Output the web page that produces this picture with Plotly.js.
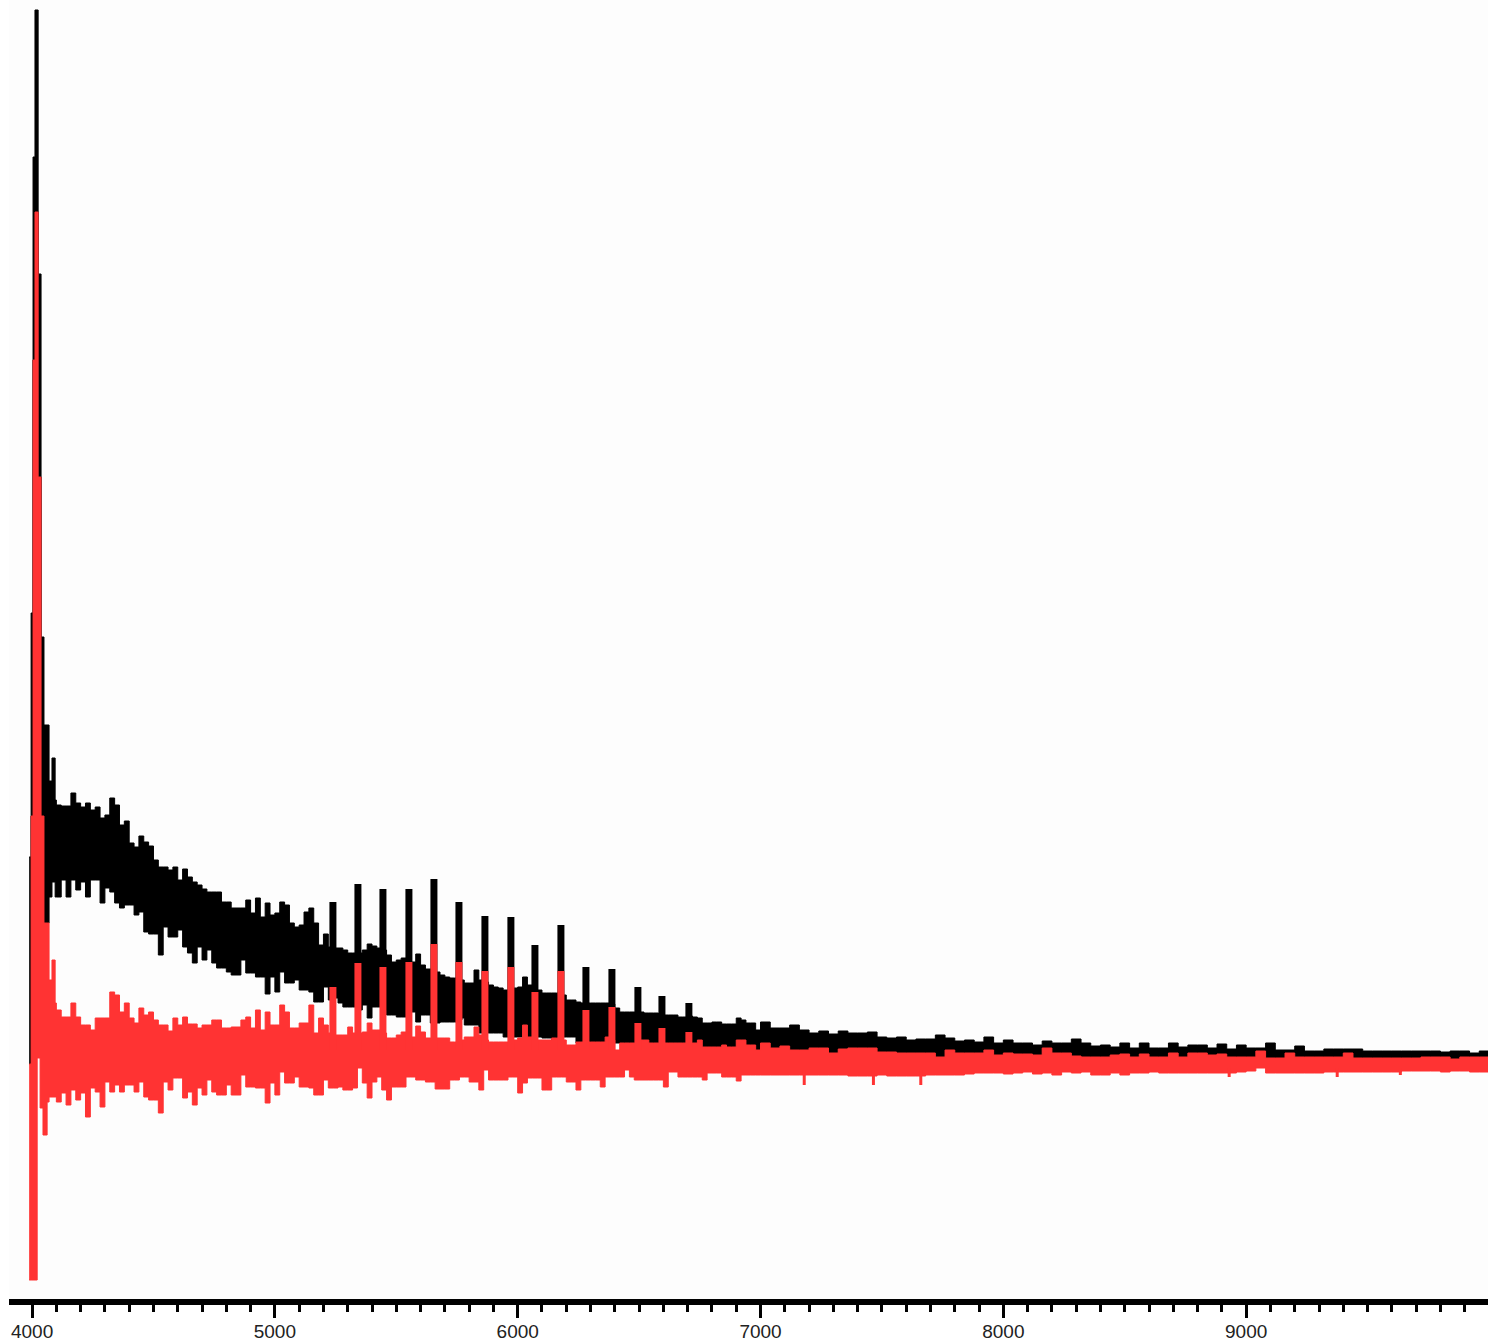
<!DOCTYPE html>
<html>
<head>
<meta charset="utf-8">
<script src="https://cdn.plot.ly/plotly-3.0.1.min.js"></script>
<style>html,body{margin:0;padding:0;background:#fff}</style>
</head>
<body>
<div id="chart" style="width:1488px;height:1342px"></div>
<script>
var tickValues = [4000,5000,6000,7000,8000,9000];
var tickLabels = ["4000","5000","6000","7000","8000","9000"];

var onsetBlackX = [3988,3996,4004,4012,4025,4037,4049,4070,4082,4095];
var onsetBlackTop = [208,452,908,1055,791,428,340,284,307,265];
var onsetBlackLow = [1,249,705,853,588,249,142,168,183,168];

var onsetRedX = [3988,3996,4004,4012,4021,4025,4033,4037,4045,4049,4062,4070,4082,4095];
var onsetRedTop = [1,249,705,853,853,588,588,249,249,142,142,85,105,62];
var onsetRedLow = [-215,-215,-215,-215,7,7,-43,-43,-70,-70,-37,-32,-32,-32];

var wavenumber = [
4100,4120,4140,4160,4180,4200,4220,4240,4260,4280,4300,4320,4340,4360,4380,4400,4420,4440,4460,4480,
4500,4520,4540,4560,4580,4600,4620,4640,4660,4680,4700,4720,4740,4760,4780,4800,4820,4840,4860,4880,
4900,4920,4940,4960,4980,5000,5020,5040,5060,5080,5100,5120,5140,5160,5180,5200,5220,5240,5260,5280,
5300,5320,5340,5360,5380,5400,5420,5440,5460,5480,5500,5520,5540,5560,5580,5600,5620,5640,5660,5680,
5700,5720,5740,5760,5780,5800,5820,5840,5860,5880,5900,5920,5940,5960,5980,6000,6020,6040,6060,6080,
6100,6120,6140,6160,6180,6200,6220,6240,6260,6280,6300,6320,6340,6360,6380,6400,6420,6440,6460,6480,
6500,6520,6540,6560,6580,6600,6620,6640,6660,6680,6700,6720,6740,6760,6780,6800,6820,6840,6860,6880,
6900,6920,6940,6960,6980,
7000,7040,7080,7120,7160,7200,7240,7280,7320,7360,7400,7440,7480,7520,7560,7600,7640,7680,7720,7760,
7800,7840,7880,7920,7960,8000,8040,8080,8120,8160,8200,8240,8280,8320,8360,8400,8440,8480,8520,8560,
8600,8640,8680,8720,8760,8800,8840,8880,8920,8960,9000,9040,9080,9120,9160,9200,9240,9280,9320,9360,
9400,9440,9480,9520,9560,9600,9640,9680,9720,9760,9800,9840,9880,9920,9960,10000];

var blackTop = [
260,259,259,272,262, 258,262,255,258,247, 250,267,260,240,244, 222,218,229,223,219,
205,198,198,195,198, 185,196,188,183,180, 176,173,173,173,163, 163,157,157,157,165,
152,167,148,162,150, 152,163,160,142,138, 140,153,157,142,120, 131,118,117,117,115,
112,112,112,115,121, 119,117,115,110,103, 105,107,103,103,111, 100,96,96,93,90,
88,87,87,85,82, 82,95,85,83,80, 78,77,75,75,77, 78,88,80,78,75,
72,72,72,72,70, 65,65,63,62,62, 62,62,62,62,61, 57,53,53,53,53,
53,52,52,52,51, 50,50,50,48,48, 49,48,47,42,42, 43,43,41,41,41,
47,45,42,42,35,
43,37,37,40,35, 32,34,31,34,32, 32,33,28,27,28, 25,26,26,30,27,
24,25,23,28,22, 25,22,22,20,24, 22,22,26,22,19, 20,18,22,17,22,
17,17,22,18,20, 20,17,21,16,20, 17,17,22,15,15, 19,14,14,16,16,
16,16,14,14,14, 14,14,14,14,14, 13,14,14,12,14, 14];

var blackLowRead = [
168,185,168,185,175, 183,168,185,185,162, 177,173,162,157,160, 160,150,153,133,131,
131,110,138,128,128, 135,118,112,102,118, 105,115,102,97,97, 93,90,90,105,92,
92,88,88,71,88, 73,93,82,82,85, 75,75,73,63,63, 78,65,67,62,58,
58,58,55,60,47, 58,58,55,50,50, 48,48,53,53,43, 50,50,42,42,43,
43,43,43,47,40, 40,40,32,32,32, 32,32,28,28,28, 28,28,28,28,28,
27,27,23,23,28, 28,28,22,22,22, 22,22,22,22,22, 22,22,22,22,22];

var redTop = [
55,48,48,62,48, 40,40,35,47,47, 47,73,70,53,62, 47,42,57,50,53,
45,40,40,34,47, 40,48,41,41,37, 40,40,45,45,37, 37,38,38,45,48,
37,55,35,53,40, 40,60,53,37,37, 42,42,60,32,47, 40,32,30,30,30,
38,32,32,33,42, 35,35,32,27,27, 30,33,28,28,39, 33,27,27,27,27,
27,23,23,25,28, 28,38,30,25,23, 23,23,23,23,25, 27,40,28,28,25,
25,25,27,27,25, 20,20,23,23,23, 23,23,23,28,25, 15,22,22,22,22,
25,25,22,22,22, 22,22,22,22,22, 22,22,25,18,18, 18,18,20,18,18,
25,25,20,20,15,
22,17,19,15,15, 17,17,12,16,17, 17,17,13,13,12, 12,12,12,8,15,
12,12,12,15,10, 12,11,11,10,17, 12,12,9,8,8, 8,10,11,8,11,
8,8,12,8,12, 12,10,11,8,8, 8,14,7,7,12, 8,8,8,8,8,
12,7,7,7,7, 7,7,7,8,8, 8,6,8,8,8, 8];

var redLow = [
-37,-28,-40,-25,-35, -28,-52,-23,-27,-42, -17,-27,-20,-27,-20, -20,-27,-17,-32,-35,
-35,-48,-17,-25,-13, -13,-33,-27,-40,-23, -30,-15,-27,-30,-30, -20,-30,-30,-10,-22,
-22,-23,-23,-38,-18, -30,-7,-18,-18,-12, -22,-22,-23,-30,-30, -15,-23,-23,-22,-25,
-25,-23,-3,-18,-33, -17,-12,-25,-35,-22, -22,-22,-12,-12,-15, -15,-17,-17,-24,-24,
-24,-15,-15,-12,-12, -17,-17,-25,-5,-15, -15,-15,-15,-12,-12, -28,-18,-13,-13,-13,
-25,-25,-12,-12,-12, -17,-17,-25,-15,-15, -15,-15,-22,-12,-12, -12,-12,-5,-12,-15,
-15,-15,-15,-15,-15, -22,-7,-7,-12,-12, -12,-12,-12,-15,-8, -8,-8,-12,-12,-12,
-16,-10,-10,-10,-10,
-10,-10,-10,-10,-10, -10,-10,-10,-10,-11, -11,-11,-10,-11,-11, -11,-11,-10,-10,-10,
-10,-9,-8,-8,-8, -9,-8,-7,-9,-8, -10,-7,-8,-7,-10, -10,-8,-10,-8,-8,
-7,-8,-8,-8,-8, -8,-8,-8,-8,-7, -6,-3,-8,-8,-8, -8,-8,-8,-7,-7,
-7,-7,-7,-7,-7, -7,-6,-6,-6,-6, -7,-6,-6,-7,-7, -7];

var peakX = [5239,5342,5445,5552,5655,5758,5865,5972,6071,6178,6281,6388,6495,6594,6705];
var peakBlackTop = [163,181,176,176,186,163,149,148,120,140,98,96,78,69,62];
var peakBlackBase = [90,75,70,60,50,45,40,35,35,30,30,25,25,25,25];
var peakRedTop = [78,102,98,103,121,103,94,98,73,94,55,58,42,37,33];
var peakRedBase = [15,15,15,15,15,15,15,15,15,15,15,15,15,15,15];

var dipX = [7180,7465,7660,8930,9375,9635];
var dipBottom = [-20,-20,-20,-12,-12,-10];
var dipBase = [-5,-5,-5,-3,-3,-3];

var BLACK = '#000000', RED = '#ff3333';

function band(x, low, top, color) {
  return [
    {x: x, y: low, mode: 'lines', type: 'scatter', hoverinfo: 'skip',
     line: {shape: 'hv', width: 1, color: color}},
    {x: x, y: top, mode: 'lines', type: 'scatter', hoverinfo: 'skip', fill: 'tonexty', fillcolor: color,
     line: {shape: 'hv', width: 1, color: color}}
  ];
}
function peaks(x, base, top, color, width) {
  var px = [], py = [];
  for (var i = 0; i < x.length; i++) {
    px.push(x[i], x[i], null);
    py.push(base[i], top[i], null);
  }
  return {x: px, y: py, mode: 'lines', type: 'scatter', hoverinfo: 'skip',
          line: {width: width, color: color}};
}

var blackLow = blackLowRead.concat(redTop.slice(blackLowRead.length));

var traces = []
  .concat(band(onsetBlackX.concat(wavenumber), onsetBlackLow.concat(blackLow), onsetBlackTop.concat(blackTop), BLACK))
  .concat([peaks(peakX, peakBlackBase, peakBlackTop, BLACK, 7)])
  .concat(band(onsetRedX.concat(wavenumber), onsetRedLow.concat(redLow), onsetRedTop.concat(redTop), RED))
  .concat([peaks(peakX, peakRedBase, peakRedTop, RED, 7)])
  .concat([peaks(dipX, dipBase, dipBottom, RED, 3)]);

var layout = {
  width: 1488, height: 1342, autosize: false, showlegend: false,
  margin: {l: 9, r: 0, t: 0, b: 43, pad: 0},
  paper_bgcolor: '#ffffff', plot_bgcolor: '#fdfdfd',
  xaxis: {
    range: [3905, 9996], showgrid: false, zeroline: false,
    showline: true, linecolor: '#000', linewidth: 6,
    tickmode: 'array', tickvals: tickValues, ticktext: tickLabels,
    ticks: 'outside', ticklen: 13, tickwidth: 3, tickcolor: '#000', ticklabelstandoff: -3,
    tickfont: {family: 'Liberation Sans, Arial, sans-serif', size: 19, color: '#222'},
    minor: {dtick: 100, tick0: 4000, ticks: 'outside', ticklen: 7, tickwidth: 3, tickcolor: '#000', showgrid: false}
  },
  yaxis: {range: [-234, 1065], visible: false, showgrid: false, zeroline: false}
};

Plotly.newPlot('chart', traces, layout, {displayModeBar: false, staticPlot: true});
</script>
</body>
</html>
